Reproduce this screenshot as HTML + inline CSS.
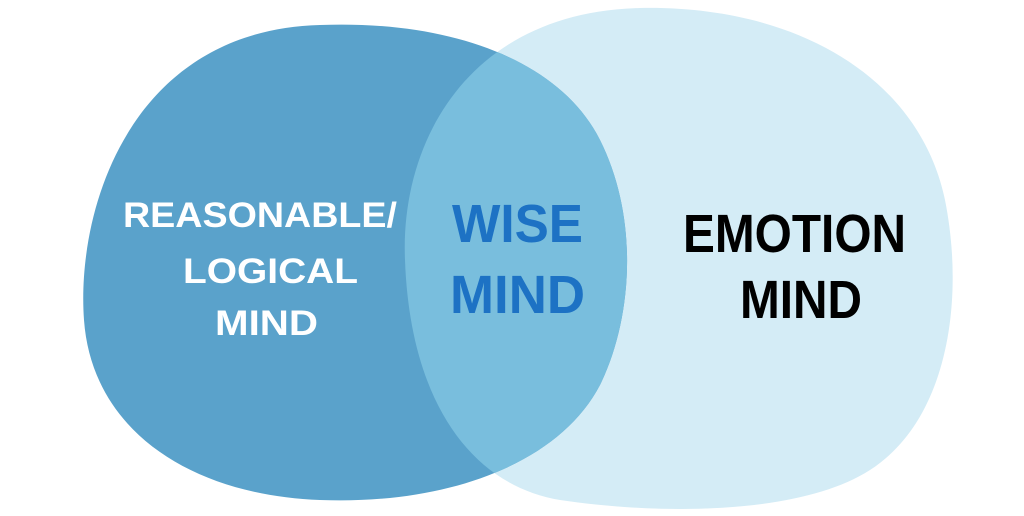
<!DOCTYPE html>
<html><head><meta charset="utf-8"><style>
html,body{margin:0;padding:0;background:#fff;width:1024px;height:516px;overflow:hidden}
svg{display:block}
text{font-family:"Liberation Sans",sans-serif;font-weight:bold}
</style></head><body>
<svg width="1024" height="516" viewBox="0 0 1024 516">
<defs>
<path id="L" d="M 320,25 C 450,20 560,60 600,140 C 640,220 632,320 600,385 C 560,462 450,505 320,500 C 190,495 92,430 84,320 C 76,210 130,30 320,25 Z"/>
<path id="R" d="M 640,8 C 800,5 920,80 945,200 C 965,300 948,420 870,470 C 800,515 660,515 560,500 C 470,485 410,400 405,260 C 400,140 470,12 640,8 Z"/>
<clipPath id="cl"><use href="#L"/></clipPath>
</defs>
<use href="#R" fill="#D4ECF6"/>
<use href="#L" fill="#5AA2CB"/>
<use href="#R" fill="#79BEDD" clip-path="url(#cl)"/>
<g fill="#fff" font-size="35" lengthAdjust="spacingAndGlyphs">
<text x="123" y="227" textLength="274" lengthAdjust="spacingAndGlyphs">REASONABLE/</text>
<text x="183" y="283" textLength="175" lengthAdjust="spacingAndGlyphs">LOGICAL</text>
<text x="215" y="335" textLength="103" lengthAdjust="spacingAndGlyphs">MIND</text>
</g>
<g fill="#1D72C4" font-size="54">
<text x="452" y="242" textLength="131" lengthAdjust="spacingAndGlyphs">WISE</text>
<text x="450" y="313" textLength="135" lengthAdjust="spacingAndGlyphs">MIND</text>
</g>
<g fill="#000" font-size="54">
<text x="683" y="252" textLength="223" lengthAdjust="spacingAndGlyphs">EMOTION</text>
<text x="740" y="318" textLength="122" lengthAdjust="spacingAndGlyphs">MIND</text>
</g>
</svg>
</body></html>
